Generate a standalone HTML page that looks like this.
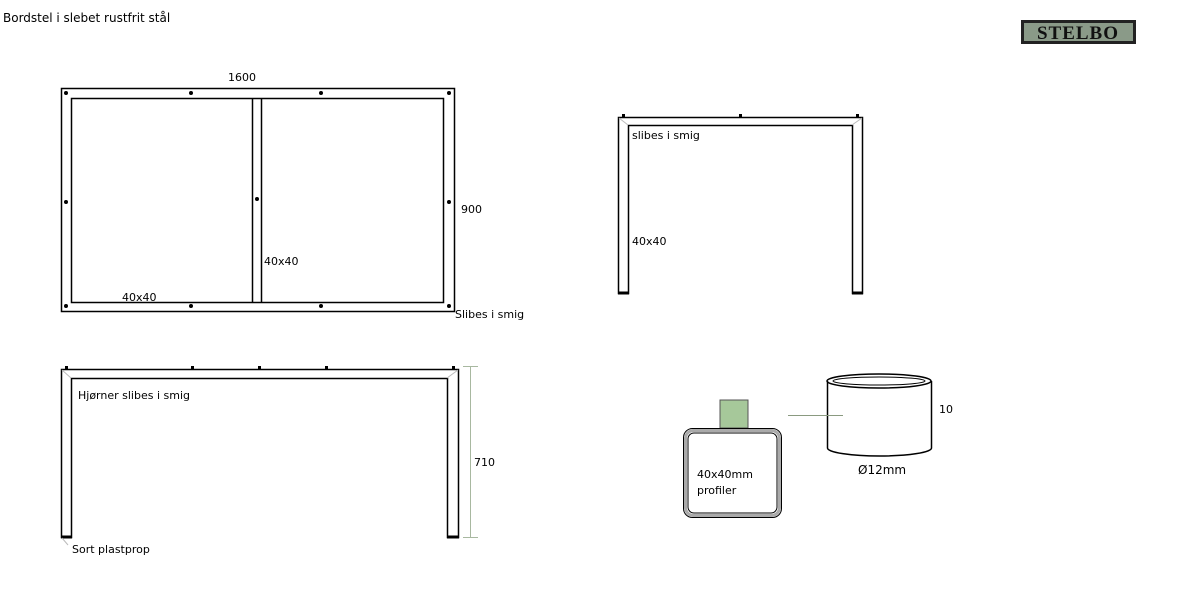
<!DOCTYPE html>
<html><head><meta charset="utf-8"><style>
html,body{margin:0;padding:0;background:#fff;}
body{width:1187px;height:601px;overflow:hidden;}
svg{display:block;}
text{font-family:"DejaVu Sans","Liberation Sans",sans-serif;font-size:11px;fill:#000;}
</style></head><body>
<svg width="1187" height="601" viewBox="0 0 1187 601" xmlns="http://www.w3.org/2000/svg">
<text x="3" y="22" style="font-size:12px">Bordstel i slebet rustfrit stål</text>
<!-- logo -->
<rect x="1021" y="20" width="115" height="24" fill="#222"/>
<rect x="1024" y="23" width="109" height="18" fill="#8a9a88"/>
<text x="1078" y="39" text-anchor="middle" style="font-family:'Liberation Serif',serif;font-size:19px;font-weight:bold;fill:#111;letter-spacing:1px">STELBO</text>

<g fill="none" stroke="#000" stroke-width="1.5">
<!-- top view -->
<rect x="61.5" y="88.5" width="393" height="223"/>
<rect x="71.5" y="98.5" width="372" height="204"/>
<line x1="252.5" y1="98.5" x2="252.5" y2="302.5"/>
<line x1="261.5" y1="98.5" x2="261.5" y2="302.5"/>
<!-- front frame -->
<path d="M61.5 537.5 V369.5 H458.5 V537.5 H447.5 V378.5 H71.5 V537.5 Z"/>
<!-- end frame -->
<path d="M618.5 293.5 V117.5 H862.5 V293.5 H852.5 V125.5 H628.5 V293.5 Z"/>
<!-- cylinder -->
<ellipse cx="879" cy="381" rx="52" ry="7"/>
<ellipse cx="879" cy="381" rx="46" ry="4" stroke-width="1"/>
<line x1="827.5" y1="381" x2="827.5" y2="448"/>
<line x1="931.5" y1="381" x2="931.5" y2="448"/>
<path d="M827.5 448 A52 8 0 0 0 931.5 448"/>
</g>
<g stroke="#000" stroke-width="3">
<line x1="61" y1="537" x2="72" y2="537"/><line x1="447" y1="537" x2="459" y2="537"/>
<line x1="618" y1="293" x2="629" y2="293"/><line x1="852" y1="293" x2="863" y2="293"/>
</g>
<!-- miter hints -->
<g stroke="#bbb" stroke-width="1">
<line x1="62" y1="370" x2="71" y2="378"/><line x1="458" y1="370" x2="447" y2="378"/>
<line x1="619" y1="118" x2="628" y2="125"/><line x1="862" y1="118" x2="852" y2="125"/>
<line x1="62" y1="538" x2="68" y2="545"/>
</g>
<!-- dots -->
<g fill="#000">
<circle cx="66" cy="93" r="2"/><circle cx="191" cy="93" r="2"/><circle cx="321" cy="93" r="2"/><circle cx="449" cy="93" r="2"/>
<circle cx="66" cy="306" r="2"/><circle cx="191" cy="306" r="2"/><circle cx="321" cy="306" r="2"/><circle cx="449" cy="306" r="2"/>
<circle cx="66" cy="202" r="2"/><circle cx="449" cy="202" r="2"/><circle cx="257" cy="199" r="2"/>
<rect x="65" y="366" width="3" height="3"/><rect x="191" y="366" width="3" height="3"/><rect x="258" y="366" width="3" height="3"/><rect x="325" y="366" width="3" height="3"/><rect x="452" y="366" width="3" height="3"/>
<rect x="622" y="114" width="3" height="3"/><rect x="739" y="114" width="3" height="3"/><rect x="856" y="114" width="3" height="3"/>
</g>
<!-- 710 dimension -->
<g stroke="#a8b8a0" stroke-width="1">
<line x1="470.5" y1="367" x2="470.5" y2="537"/>
<line x1="463" y1="366.5" x2="478" y2="366.5"/><line x1="463" y1="537.5" x2="478" y2="537.5"/>
</g>
<!-- profile -->
<rect x="720" y="400" width="28" height="28" fill="#a6c89a" stroke="#555" stroke-width="1"/>
<rect x="683.5" y="428.5" width="98" height="89" rx="9" fill="#fff" stroke="#000" stroke-width="1"/>
<rect x="685.5" y="430.5" width="94" height="85" rx="8" fill="none" stroke="#aaa" stroke-width="3"/>
<rect x="688" y="433" width="89" height="80" rx="6" fill="#fff" stroke="#000" stroke-width="1"/>
<line x1="788" y1="415.5" x2="843" y2="415.5" stroke="#8a9a80" stroke-width="1"/>

<text x="228" y="81">1600</text>
<text x="461" y="213">900</text>
<text x="264" y="265">40x40</text>
<text x="122" y="301">40x40</text>
<text x="455" y="318">Slibes i smig</text>
<text x="632" y="139">slibes i smig</text>
<text x="632" y="245">40x40</text>
<text x="78" y="399">Hjørner slibes i smig</text>
<text x="474" y="466">710</text>
<text x="72" y="553">Sort plastprop</text>
<text x="697" y="478">40x40mm</text>
<text x="697" y="494">profiler</text>
<text x="939" y="413">10</text>
<text x="858" y="474" style="font-size:12px">Ø12mm</text>
</svg>
</body></html>
